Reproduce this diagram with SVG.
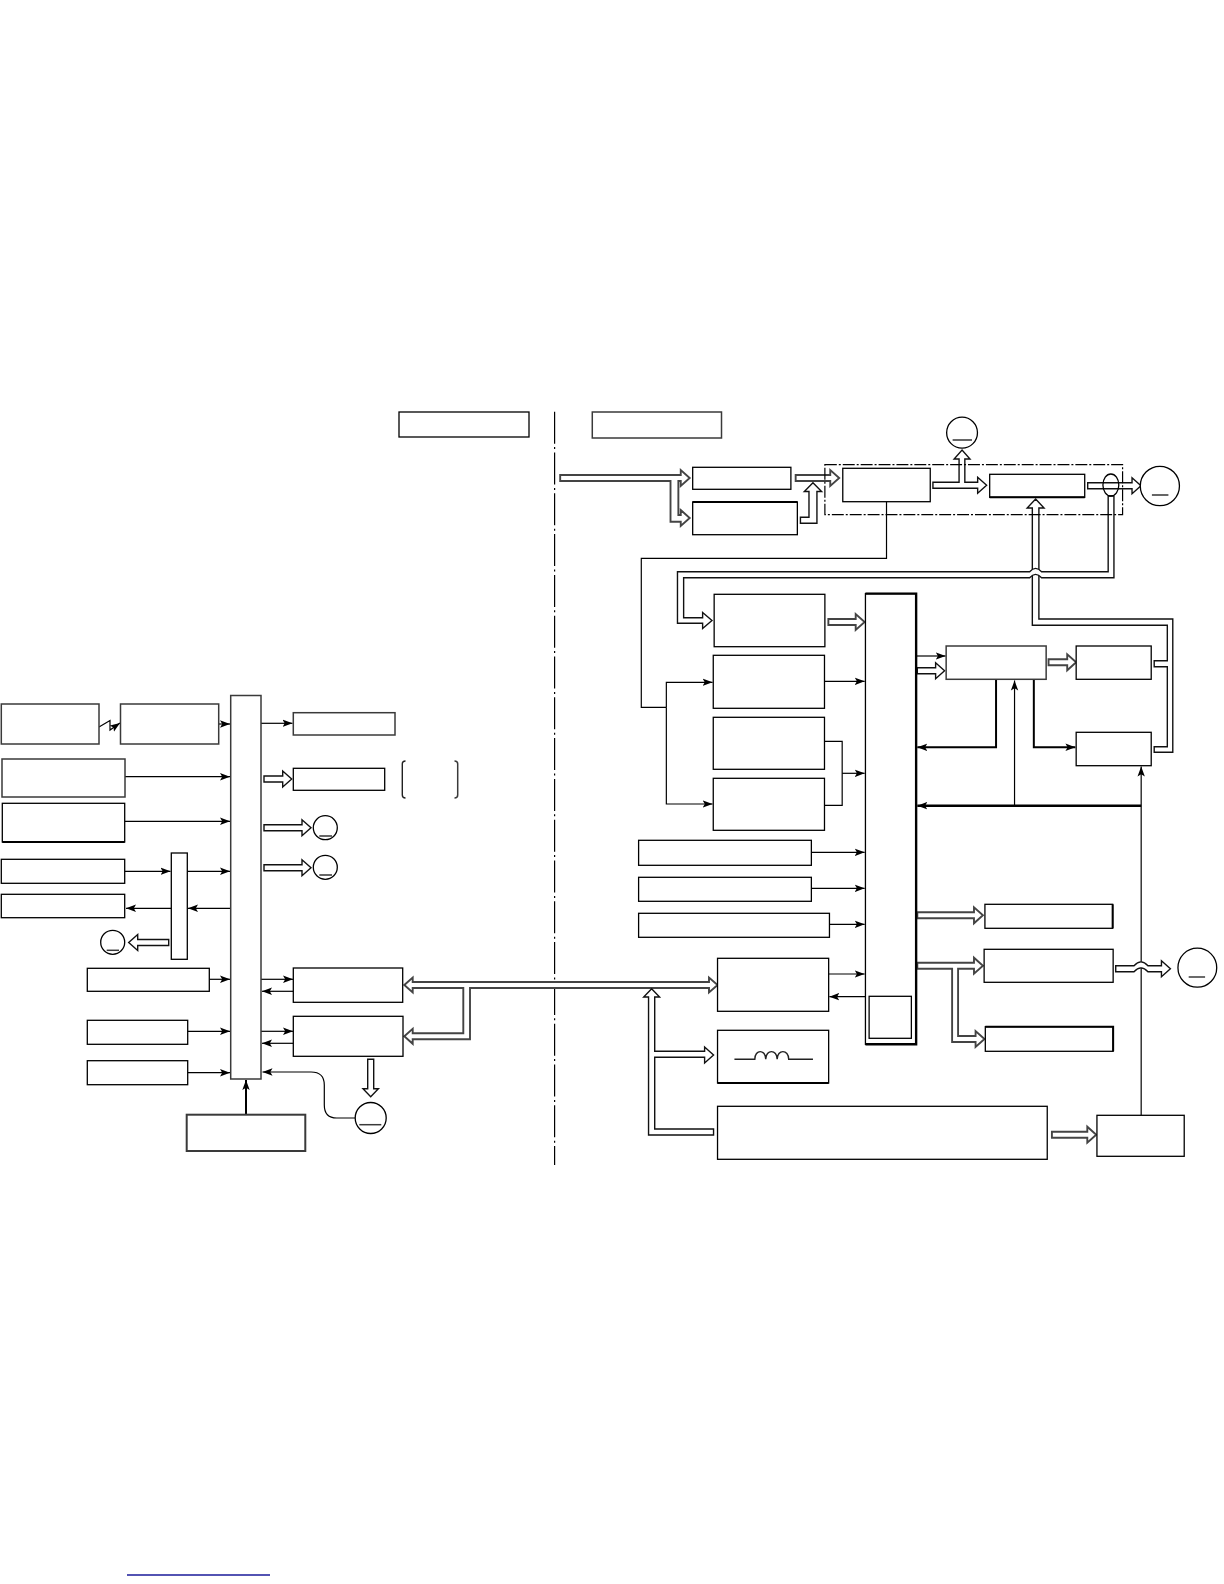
<svg xmlns="http://www.w3.org/2000/svg" width="1224" height="1584" viewBox="0 0 1224 1584">
<style>
rect,circle,ellipse{fill:#fff;stroke:#000;stroke-width:1.3}
.g{stroke:#3a3a3a;stroke-width:1.5}
.t{stroke:#000;stroke-width:2.4;fill:none}
.u{stroke:#222;stroke-width:1.4;fill:none}
.l{stroke:#000;stroke-width:1.2;fill:none}
.a{marker-end:url(#h)}
.w{stroke:#000;stroke-width:2;fill:none}
.th{stroke:#000;stroke-width:2.6;fill:none}
.p{fill:#fff;stroke:#111;stroke-width:1.4;stroke-linejoin:miter}
.q{fill:#fff;stroke:#444;stroke-width:1.9;stroke-linejoin:miter}
.d{fill:none;stroke:#000;stroke-width:1.2}
.right{transform:translate(3.84px,0) scale(.994,1)}
</style>
<defs>
<marker id="h" markerUnits="userSpaceOnUse" markerWidth="11" markerHeight="9" refX="10" refY="4.5" orient="auto"><path d="M0,0.8 L10,4.5 L0,8.2 L2.2,4.5 Z" fill="#000"/></marker>
</defs>
<rect width="1224" height="1584" style="fill:#fff;stroke:none"/>
<g id="divider"><path class="d" stroke-dasharray="32 3.4 2 3.4" d="M554.6,411.7 V1165"/></g>
<g id="connectors">
<g id="connectors-left">
<path class="l a" d="M99,727 L110,720.5 V730 L120,723"/>
<path class="l a" d="M218.7,724 H230"/>
<path class="l a" d="M261,723.3 H292.5"/>
<path class="l a" d="M125,776.7 H230"/>
<path class="l a" d="M125,821.3 H230"/>
<path class="l a" d="M125,871.3 H170.5"/>
<path class="l a" d="M187.3,871.3 H230"/>
<path class="l a" d="M230.7,908.3 H188"/>
<path class="l a" d="M171.3,908.3 H126"/>
<path class="l a" d="M209.3,979.3 H230"/>
<path class="l a" d="M187.7,1031.3 H230"/>
<path class="l a" d="M187.7,1072.7 H230"/>
<path class="l a" d="M261,979.3 H293"/>
<path class="l a" d="M293.3,991.3 H262"/>
<path class="l a" d="M261,1031.3 H293"/>
<path class="l a" d="M293.3,1043.3 H262"/>
<path class="l a" d="M355,1118 H336.7 Q324.3,1118 324.3,1105 V1085 Q324.3,1072 311,1072 H262.5"/>
<path class="w a" d="M246,1114.7 V1080"/>
<path class="p" d="M264,776 H282.7 V771 L291.7,779 L282.7,787 V782 H264 Z"/>
<path class="p" d="M264,824.7 H302 V819.7 L311,827.7 L302,835.7 V830.7 H264 Z"/>
<path class="p" d="M264,864.7 H302 V859.7 L311,867.7 L302,875.7 V870.7 H264 Z"/>
<path class="p" d="M168.7,939.5 H137.7 V934.5 L128.7,942.5 L137.7,950.5 V945.5 H168.7 Z"/>
<path class="p" d="M367.7,1059.3 V1088.7 H363 L370.7,1096.7 L378.4,1088.7 H373.7 V1059.3 Z"/>
<path class="q" d="M404.3,985 L412.7,977.5 V982 H709 V977.5 L717.6,985 L709,992.5 V988 H470 V1039.3 H412.7 V1043.8 L404.3,1036.3 L412.7,1028.8 V1033.3 H463.3 V988 H412.7 V992.5 Z"/>
</g>
<g id="connectors-right" class="right">
<path class="l" d="M888,501.7 V558.3 H641.3 V707.3 H666.5"/>
<path class="l a" d="M666.5,707.3 V682.3 H713"/>
<path class="l a" d="M666.5,707.3 V804 H713"/>
<path class="l a" d="M825.6,681.3 H866"/>
<path class="l" d="M825.6,741.3 H843.4 V805.3 H825.6"/>
<path class="l a" d="M843.4,773.3 H866"/>
<path class="l a" d="M812.4,852.3 H866"/>
<path class="l a" d="M812.4,888.3 H866"/>
<path class="l a" d="M830.6,924.3 H866"/>
<path class="l a" d="M829.8,974 H866"/>
<path class="l a" d="M866.6,996.7 H830.5"/>
<path class="l a" d="M918,656 H947.5"/>
<path class="w a" d="M998.2,679.3 V747.3 H919"/>
<path class="w a" d="M1036.2,679.3 V747.3 H1078"/>
<path class="th a" d="M1144.2,805.7 H919"/>
<path class="l a" d="M1016.8,805.7 V680.5"/>
<path class="l a" d="M1144.2,1115 V766.5"/>
<path class="p" d="M651.7,988.7 L659.7,997 H654.8 V1051.3 H705 V1047 L714,1055 L705,1063 V1057.3 H654.8 V1129 H714 V1135 H648.6 V997 H643.7 Z"/>
<path class="q" d="M559.7,475 H681 V470 L690,478 L681,486 V481 H678.6 V515 H681 V510 L690,518 L681,526 V521.7 H670.7 V481 H559.7 Z"/>
<path class="q" d="M796.6,475 H831.4 V470 L840.4,478 L831.4,486 V481 H796.6 Z"/>
<path class="p" d="M801.4,517.3 H810 V491.5 H805.3 L814,482.7 L822.7,491.5 H818 V523.3 H801.4 Z"/>
<path class="p" d="M934.7,482.3 H961 V459 H956 L964,450 L972,459 H966.8 V482.3 H979.7 V477.3 L988.7,485.3 L979.7,493.3 V488.3 H934.7 Z"/>
<path class="p" d="M1090.4,482.7 H1135 V477.7 L1144,485.7 L1135,493.7 V488.7 H1090.4 Z"/>
<path class="p" d="M1038,499 L1046.5,508 H1041.3 V619 H1176 V752.3 H1157.3 V746.7 H1170.5 V666.7 H1157.3 V660.7 H1170.5 V625.3 H1034.7 V508 H1029.5 Z"/>
<path class="p" d="M1111,496 V571.7 H1044 Q1038,565 1032,571.7 H677.7 V623.3 H703 V628.5 L712.4,620.5 L703,612.5 V617.7 H683.9 V577.7 H1032 Q1038,571 1044,577.7 H1116.8 V496 Z"/>
<path class="q" d="M829.5,619 H857 V614 L866,622 L857,630 V625 H829.5 Z"/>
<path class="p" d="M919,667.7 H937.4 V662.7 L946.4,670.7 L937.4,678.7 V673.7 H919 Z"/>
<path class="q" d="M1051,659.3 H1069.8 V654.3 L1078.8,662.3 L1069.8,670.3 V665.3 H1051 Z"/>
<path class="q" d="M919,912.3 H976 V907.3 L985,915.3 L976,923.3 V918.3 H919 Z"/>
<path class="q" d="M919,962.7 H976 V957.7 L985,965.7 L976,973.7 V968.7 H960 V1036 H977.6 V1031 L986.6,1039 L977.6,1047 V1042 H954 V968.7 H919 Z"/>
<path class="p" d="M1118.6,965.7 H1137 Q1144,958 1151,965.7 H1164.6 V960.7 L1173.6,968.7 L1164.6,976.7 V971.7 H1151 Q1144,964 1137,971.7 H1118.6 Z"/>
<path class="q" d="M1054.4,1131.7 H1090 V1126.7 L1099,1134.7 L1090,1142.7 V1137.7 H1054.4 Z"/>
</g>
</g>
<g id="frame" class="right"><path class="d" stroke-dasharray="12 2 2 2" d="M826,464.7 H1125.5 V514.7 H826 Z"/></g>

<g id="n-header-left"><rect x="399" y="412" width="130" height="25"/></g>
<g id="n-a"><rect class="g" x="1.3" y="704" width="97.7" height="40"/></g>
<g id="n-b"><rect class="g" x="120.5" y="704" width="98.2" height="40"/></g>
<g id="n-bus"><rect class="g" x="230.7" y="695.5" width="30.3" height="383.5"/></g>
<g id="n-c"><rect class="g" x="2" y="759" width="123" height="38"/></g>
<g id="n-d"><rect x="2.3" y="803.3" width="122.4" height="38.7"/><path class="w" d="M2.3,842 H124.7"/></g>
<g id="n-e"><rect x="1.3" y="859.3" width="123.4" height="24"/></g>
<g id="n-f"><rect x="1.3" y="894.3" width="123.4" height="23.4"/></g>
<g id="n-bar"><rect x="171.3" y="853" width="16" height="106.3"/></g>
<g id="n-g"><rect class="g" x="293.3" y="712.7" width="101.7" height="22.3"/></g>
<g id="n-h"><rect x="293.3" y="768.3" width="91.4" height="22"/></g>
<g id="n-bracket"><path class="u" d="M405.5,761 Q402.3,761 402.3,764 V795 Q402.3,798 405.5,798"/><path class="g" style="fill:none" d="M454.5,761 Q457.7,761 457.7,764 V795 Q457.7,798 454.5,798"/></g>
<g id="n-c1"><circle cx="325.3" cy="827.7" r="12"/><path class="l" d="M319.3,836 H332"/></g>
<g id="n-c2"><circle cx="325.3" cy="867.3" r="12"/><path class="l" d="M319.3,875 H332"/></g>
<g id="n-c3"><circle cx="112.7" cy="942.3" r="12"/><path class="g" d="M106.7,950.3 H119"/></g>
<g id="n-i"><rect x="87.3" y="968.3" width="122" height="23"/></g>
<g id="n-j"><rect x="87.3" y="1020.3" width="100.4" height="24"/></g>
<g id="n-k"><rect x="87.3" y="1060.7" width="100.4" height="24"/></g>
<g id="n-l"><rect class="g" style="stroke-width:2" x="186.7" y="1114.7" width="118.6" height="36.3"/></g>
<g id="n-m"><rect x="293.3" y="968" width="109.4" height="34.3"/></g>
<g id="n-n"><rect x="293.3" y="1016.3" width="109.7" height="40"/></g>
<g id="n-c4"><circle cx="370.7" cy="1118" r="15.5"/><path class="g" d="M359.3,1124.7 H381.3"/></g>

<g id="nodes-right" class="right">
<g id="n-header-right"><rect class="g" x="592" y="412" width="130" height="26"/></g>
<g id="n-s"><rect x="693" y="467.3" width="98.8" height="22"/></g>
<g id="n-t"><rect x="693" y="502" width="105.3" height="32.7"/><path class="w" d="M693,502 H798.3"/></g>
<g id="n-u"><rect x="844" y="468.3" width="88" height="33.4"/></g>
<g id="n-v"><rect x="991.8" y="474.3" width="95.6" height="23"/><path class="w" d="M991.8,497.3 H1087.4"/></g>
<g id="n-ct"><circle cx="964" cy="432.7" r="15.5"/><path class="l" d="M954.5,440 H974"/></g>
<ellipse id="n-ring" cx="1113.7" cy="485" rx="8" ry="11" style="fill:none"/>
<g id="n-cr"><circle cx="1163" cy="486" r="19.7"/><path class="l" d="M1155,495 H1171.6"/></g>
<g id="n-w"><rect x="714.6" y="594.3" width="111.4" height="52.4"/></g>
<g id="n-x"><rect x="866.8" y="593.6" width="51" height="450.7"/><path class="t" d="M866.8,593.6 H917.8 V1044.3 H866.8"/><rect x="870.5" y="996.3" width="42.5" height="42"/></g>
<g id="n-y"><rect class="g" x="948" y="646" width="100.6" height="33.3"/></g>
<g id="n-z"><rect x="1078.8" y="646" width="75.5" height="33.3"/></g>
<g id="n-aa"><rect x="1078.8" y="732.3" width="75.5" height="33.4"/></g>
<g id="n-ab"><rect x="713.7" y="655.3" width="111.9" height="53"/></g>
<g id="n-ac"><rect x="713.7" y="717.3" width="111.9" height="52"/></g>
<g id="n-ad"><rect x="713.7" y="778.3" width="111.9" height="52"/></g>
<g id="n-ae"><rect x="638.6" y="840.3" width="173.8" height="25"/></g>
<g id="n-af"><rect x="638.6" y="877.3" width="173.8" height="24"/></g>
<g id="n-ag"><rect x="638.6" y="913.3" width="192" height="24"/></g>
<g id="n-ah"><rect x="987" y="904.3" width="128.5" height="24"/><path class="w" d="M1115.5,904.3 V928.3"/></g>
<g id="n-am"><rect x="986.2" y="949.3" width="129.8" height="33"/></g>
<g id="n-an"><rect x="987.4" y="1026.7" width="128.6" height="24.6"/><path class="w" d="M987.4,1026.7 H1116 V1051.3"/></g>
<g id="n-cb"><circle cx="1200.7" cy="967.7" r="19.5"/><path class="g" d="M1192,977 H1208.5"/></g>
<g id="n-ai"><rect x="718" y="958.3" width="111.8" height="53"/></g>
<g id="n-aj"><rect x="718" y="1030.3" width="111.8" height="52.7"/><path class="w" d="M718,1083 H829.8"/><path class="u" d="M735,1059.3 H755.5 C755.5,1049 766.5,1049 766.5,1059.3 C766.5,1049 778,1049 778,1059.3 C778,1049 789.6,1049 789.6,1059.3 H814"/></g>
<g id="n-ak"><rect x="718" y="1106.3" width="331.7" height="53"/></g>
<g id="n-al"><rect x="1099.7" y="1115.3" width="87.8" height="41"/></g>
</g>
<path id="footer-line" d="M127,1575 H270" style="stroke:#1a1a9a;stroke-width:1.4;fill:none"/>
</svg>
